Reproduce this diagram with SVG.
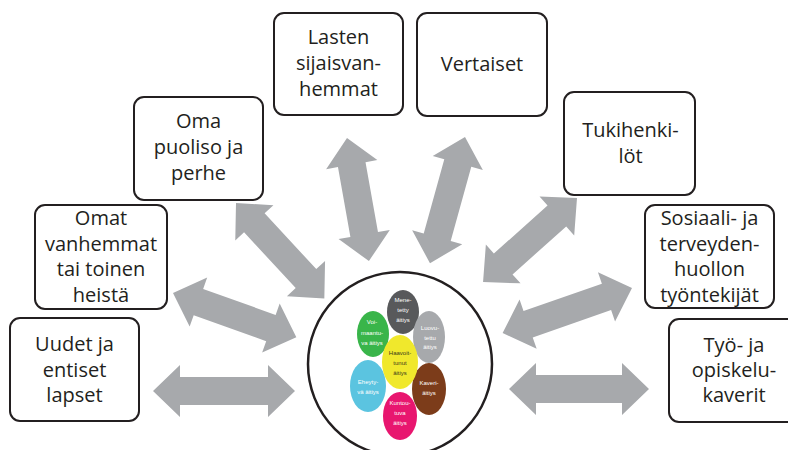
<svg xmlns="http://www.w3.org/2000/svg" width="788" height="450" viewBox="0 0 788 450">
<style>
.box{fill:#fff;stroke:#231f20;stroke-width:2}
.lbl{font-family:"Open Sans","Liberation Sans",sans-serif;font-size:20px;fill:#231f20;text-anchor:middle}
.arr{fill:#a7a9ac}
.sm{font-family:"Liberation Sans","DejaVu Sans",sans-serif;font-size:6px;fill:#fff;text-anchor:middle}
.dk{fill:#3a3a1a}
</style>
<rect width="788" height="450" fill="#fff"/>
<g id="connectors">
<path class="arr" transform="translate(153,391)" d="M0,0 L27,-26 L27,-14 L115,-14 L115,-26 L142,0 L115,26 L115,14 L27,14 L27,26 Z"/>
<path class="arr" transform="translate(509,389)" d="M0,0 L27,-26 L27,-14 L113,-14 L113,-26 L140,0 L113,26 L113,14 L27,14 L27,26 Z"/>
<path class="arr" transform="translate(173,293) rotate(19.7)" d="M0,0 L27,-26 L27,-14 L104,-14 L104,-26 L131,0 L104,26 L104,14 L27,14 L27,26 Z"/>
<path class="arr" transform="translate(236,203) rotate(47.2)" d="M0,0 L27,-26 L27,-14 L103,-14 L103,-26 L130,0 L103,26 L103,14 L27,14 L27,26 Z"/>
<path class="arr" transform="translate(347,138) rotate(79.9)" d="M0,0 L27,-26 L27,-14 L98,-14 L98,-26 L125,0 L98,26 L98,14 L27,14 L27,26 Z"/>
<path class="arr" transform="translate(465,137) rotate(105.5)" d="M0,0 L27,-26 L27,-14 L104,-14 L104,-26 L131,0 L104,26 L104,14 L27,14 L27,26 Z"/>
<path class="arr" transform="translate(577,198) rotate(138.2)" d="M0,0 L27,-26 L27,-14 L99,-14 L99,-26 L126,0 L99,26 L99,14 L27,14 L27,26 Z"/>
<path class="arr" transform="translate(632,288) rotate(160.8)" d="M0,0 L27,-26 L27,-14 L110,-14 L110,-26 L137,0 L110,26 L110,14 L27,14 L27,26 Z"/>
</g>
<g id="center">
<circle cx="400" cy="364" r="92" fill="#fff" stroke="#231f20" stroke-width="2.5"/>
<ellipse cx="403" cy="312" rx="16" ry="22" fill="#58595b"/>
<ellipse cx="429" cy="337" rx="16" ry="26" fill="#a7a9ac"/>
<ellipse cx="373" cy="334" rx="16" ry="23" fill="#39b54a"/>
<ellipse cx="368" cy="386" rx="18" ry="26" fill="#5bc4e0"/>
<ellipse cx="429" cy="389" rx="17" ry="26" fill="#7c3c1a"/>
<ellipse cx="400" cy="362" rx="18" ry="27" fill="#f0e82c"/>
<ellipse cx="400" cy="416" rx="17" ry="24" fill="#e8166f"/>
<text class="sm" x="403" y="302">Mene-</text>
<text class="sm" x="403" y="312">tetty</text>
<text class="sm" x="403" y="322">äitiys</text>
<text class="sm" x="430" y="330">Luovu-</text>
<text class="sm" x="430" y="340">tettu</text>
<text class="sm" x="430" y="349">äitiys</text>
<text class="sm" x="372" y="324">Voi-</text>
<text class="sm" x="372" y="335">maantu-</text>
<text class="sm" x="372" y="345">va äitiys</text>
<text class="sm dk" x="400" y="355">Haavoit-</text>
<text class="sm dk" x="400" y="365">tunut</text>
<text class="sm dk" x="400" y="375">äitiys</text>
<text class="sm" x="368" y="384">Eheyty-</text>
<text class="sm" x="368" y="394">vä äitiys</text>
<text class="sm" x="429" y="385">Kaveri-</text>
<text class="sm" x="429" y="395">äitiys</text>
<text class="sm" x="400" y="405">Kuntou-</text>
<text class="sm" x="400" y="415">tuva</text>
<text class="sm" x="400" y="425">äitiys</text>
</g>
<g id="uudet">
<rect class="box" x="10" y="318" width="129" height="103" rx="10"/>
<text class="lbl" x="74.5" y="351">Uudet ja</text>
<text class="lbl" x="74.5" y="377">entiset</text>
<text class="lbl" x="74.5" y="402">lapset</text>
</g>
<g id="omat">
<rect class="box" x="35" y="205" width="132" height="104" rx="10"/>
<text class="lbl" x="101" y="225">Omat</text>
<text class="lbl" x="101" y="251">vanhemmat</text>
<text class="lbl" x="101" y="276">tai toinen</text>
<text class="lbl" x="101" y="302">heistä</text>
</g>
<g id="oma">
<rect class="box" x="134" y="97" width="129" height="103" rx="10"/>
<text class="lbl" x="198.5" y="128">Oma</text>
<text class="lbl" x="198.5" y="154">puoliso ja</text>
<text class="lbl" x="198.5" y="180">perhe</text>
</g>
<g id="lasten">
<rect class="box" x="274" y="13" width="129" height="102" rx="10"/>
<text class="lbl" x="338.5" y="44">Lasten</text>
<text class="lbl" x="338.5" y="70">sijaisvan-</text>
<text class="lbl" x="338.5" y="96">hemmat</text>
</g>
<g id="vertaiset">
<rect class="box" x="417" y="13" width="130" height="103" rx="10"/>
<text class="lbl" x="482" y="71">Vertaiset</text>
</g>
<g id="tuki">
<rect class="box" x="564" y="92" width="131" height="103" rx="10"/>
<text class="lbl" x="630.5" y="137">Tukihenki-</text>
<text class="lbl" x="630.5" y="163">löt</text>
</g>
<g id="sosiaali">
<rect class="box" x="645" y="205" width="129" height="103" rx="10"/>
<text class="lbl" x="709.5" y="225">Sosiaali- ja</text>
<text class="lbl" x="709.5" y="251">terveyden-</text>
<text class="lbl" x="709.5" y="276">huollon</text>
<text class="lbl" x="709.5" y="302">työntekijät</text>
</g>
<g id="tyo">
<rect class="box" x="669" y="319" width="130" height="103" rx="10"/>
<text class="lbl" x="734" y="352">Työ- ja</text>
<text class="lbl" x="734" y="377">opiskelu-</text>
<text class="lbl" x="734" y="402">kaverit</text>
</g>
</svg>
